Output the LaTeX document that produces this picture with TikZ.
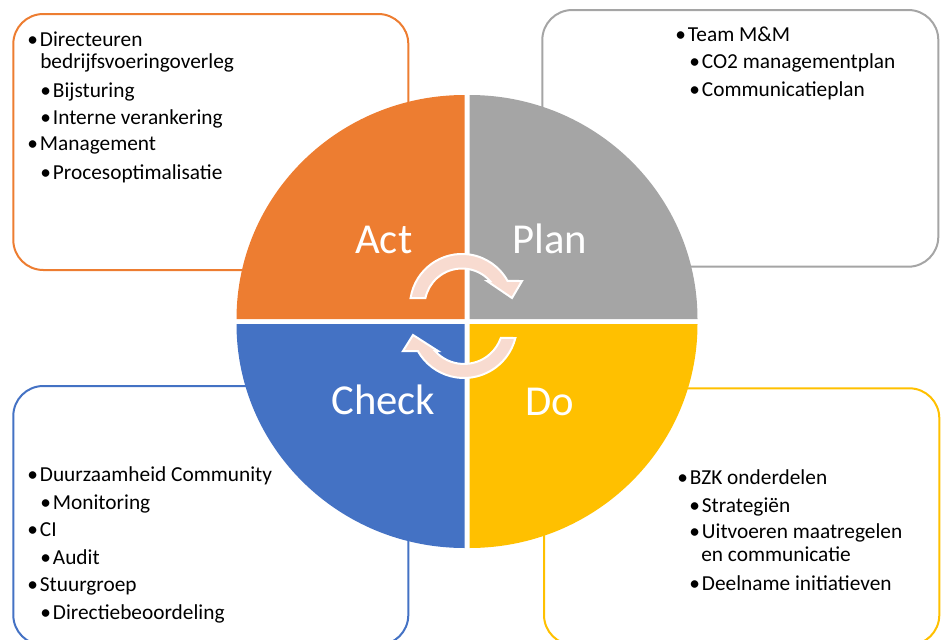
\documentclass[tikz,border=0pt]{standalone}
\usepackage{fontspec}
\setmainfont{Carlito}

\definecolor{actorange}{HTML}{ED7D31}
\definecolor{plangray}{HTML}{A5A5A5}
\definecolor{checkblue}{HTML}{4472C4}
\definecolor{doyellow}{HTML}{FFC000}
\definecolor{cyclepink}{HTML}{F8DBD0}

\tikzstyle{box} = [line width=1.5pt,rounded corners=22.5pt]
\tikzstyle{item} = [anchor=base west,inner sep=0pt,font=\fontsize{16}{19}\selectfont]
\tikzstyle{phase} = [anchor=base west,inner sep=0pt,text=white,font=\fontsize{32}{38}\selectfont]
\tikzstyle{turn} = [fill=cyclepink,draw=white,line width=1.5pt,line join=miter]

\newcommand{\bul}{\makebox[9.5pt][l]{\textbullet}}

\begin{document}
\begin{tikzpicture}[x=0.75pt,y=-0.75pt]
\useasboundingbox (0,0) rectangle (946,639);

% Boxes
\draw [box,actorange] (13.3,14) rectangle (408.3,270);
\draw [box,plangray] (542.3,10) rectangle (938.3,266.7);
\draw [box,checkblue] (13.3,386) rectangle (408.3,645);
\draw [box,doyellow] (544,388.3) rectangle (939.3,645);

% Quadrants of the circle
\fill [actorange] (464.5,319) -- (236.5,319) arc [start angle=180,end angle=270,x radius=228,y radius=224] -- cycle;
\fill [plangray] (469.5,319) -- (469.5,95) arc [start angle=270,end angle=360,x radius=228,y radius=224] -- cycle;
\fill [checkblue] (464.5,324) -- (236.5,324) arc [start angle=180,end angle=90,x radius=228,y radius=224] -- cycle;
\fill [doyellow] (469.5,324) -- (697.5,324) arc [start angle=0,end angle=90,x radius=228,y radius=224] -- cycle;

% Phase names
\node [phase] (act) at (355,253) {Act};
\node [phase] (plan) at (512,253) {Plan};
\node [phase] (check) at (331,414.5) {Check};
\node [phase] (do) at (525,415.5) {Do};

% Circular arrows
\filldraw [turn] (410.6,298) arc [start angle=188.8,end angle=331.3,radius=52] -- (522,281) -- (512,298) -- (487,281) -- (490,281) arc [start angle=318.2,end angle=192.3,radius=37.5] -- cycle;
\filldraw [turn] (515.4,338) arc [start angle=14.2,end angle=150.6,radius=53] -- (403,351) -- (413,335) -- (438,351) -- (435,351) arc [start angle=138.1,end angle=19.5,radius=39] -- cycle;

% Act
\node [item] (act1) at (27,46.7) {\bul Directeuren};
\node [item] (act1b) at (40,68.3) {bedrijfsvoeringoverleg};
\node [item] (act2) at (40,97) {\bul Bijsturing};
\node [item] (act3) at (40,124) {\bul Interne verankering};
\node [item] (act4) at (27,150.7) {\bul Management};
\node [item] (act5) at (40,179) {\bul Procesoptimalisatie};

% Plan
\node [item] (plan1) at (675,41.7) {\bul Team M\&M};
\node [item] (plan2) at (689,68.5) {\bul CO2 managementplan};
\node [item] (plan3) at (689,96) {\bul Communicatieplan};

% Check
\node [item] (check1) at (27,481.7) {\bul Duurzaamheid Community};
\node [item] (check2) at (40,509.3) {\bul Monitoring};
\node [item] (check3) at (27,536.7) {\bul CI};
\node [item] (check4) at (40,564.3) {\bul Audit};
\node [item] (check5) at (27,591.7) {\bul Stuurgroep};
\node [item] (check6) at (40,619.3) {\bul Directiebeoordeling};

% Do
\node [item] (do1) at (677,484) {\bul BZK onderdelen};
\node [item] (do2) at (689,512.3) {\bul Strategiën};
\node [item] (do3) at (689,538.3) {\bul Uitvoeren maatregelen};
\node [item] (do3b) at (701,561.7) {en communicatie};
\node [item] (do4) at (689,590.7) {\bul Deelname initiatieven};

\end{tikzpicture}
\end{document}
